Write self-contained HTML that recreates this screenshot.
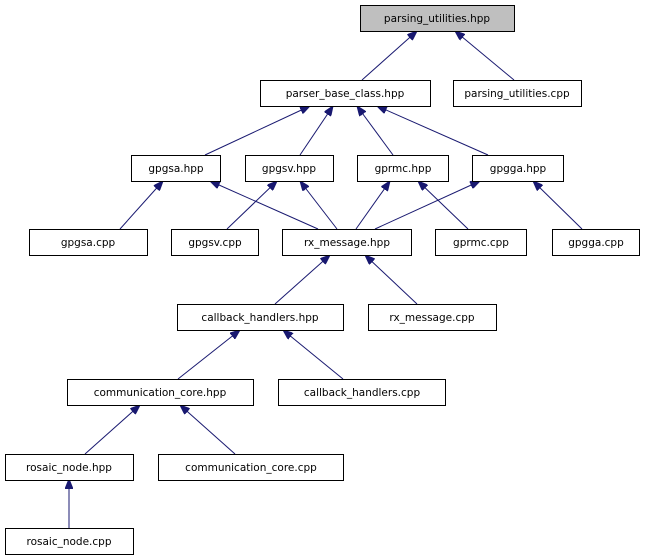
<!DOCTYPE html>
<html><head><meta charset="utf-8"><style>
html,body{margin:0;padding:0;background:#fff;width:646px;height:560px;overflow:hidden}
</style></head><body>
<svg width="646" height="560" viewBox="0 0 646 560" xmlns="http://www.w3.org/2000/svg">
<defs>
<marker id="a" markerWidth="10" markerHeight="8" refX="10" refY="4" orient="auto" markerUnits="userSpaceOnUse">
<path d="M0,0 L10,4 L0,8 Z" fill="#191970" stroke="#191970"/>
</marker>
</defs>
<g stroke="#191970" stroke-width="1" fill="none" marker-end="url(#a)">
<line x1="362" y1="80" x2="417" y2="31"/>
<line x1="514" y1="80" x2="455" y2="31"/>
<line x1="205" y1="155" x2="310" y2="106"/>
<line x1="300" y1="155" x2="333" y2="106"/>
<line x1="393" y1="155" x2="357" y2="106"/>
<line x1="488" y1="155" x2="377" y2="106"/>
<line x1="120" y1="229" x2="163" y2="181"/>
<line x1="318" y1="229" x2="210" y2="181"/>
<line x1="227" y1="229" x2="277" y2="181"/>
<line x1="337" y1="229" x2="300" y2="181"/>
<line x1="356" y1="229" x2="390" y2="181"/>
<line x1="375" y1="229" x2="480" y2="181"/>
<line x1="468" y1="229" x2="418" y2="181"/>
<line x1="582" y1="229" x2="533" y2="181"/>
<line x1="275" y1="304" x2="330" y2="255"/>
<line x1="417" y1="304" x2="365" y2="255"/>
<line x1="178" y1="379" x2="240" y2="330"/>
<line x1="343" y1="379" x2="283" y2="330"/>
<line x1="85" y1="454" x2="140" y2="405"/>
<line x1="235" y1="454" x2="180" y2="405"/>
<line x1="69" y1="528" x2="69" y2="479"/>
</g>
<g stroke="#000" stroke-width="1" fill="#fff" font-family="DejaVu Sans, Liberation Sans, sans-serif" font-size="10.5">
<rect x="360.5" y="5.5" width="154" height="26" fill="#bfbfbf"/>
<rect x="260.5" y="80.5" width="170" height="26"/>
<rect x="453.5" y="80.5" width="128" height="26"/>
<rect x="131.5" y="155.5" width="89" height="26"/>
<rect x="245.5" y="155.5" width="88" height="26"/>
<rect x="357.5" y="155.5" width="91" height="26"/>
<rect x="472.5" y="155.5" width="91" height="26"/>
<rect x="29.5" y="229.5" width="118" height="26"/>
<rect x="171.5" y="229.5" width="87" height="26"/>
<rect x="282.5" y="229.5" width="129" height="26"/>
<rect x="435.5" y="229.5" width="91" height="26"/>
<rect x="552.5" y="229.5" width="87" height="26"/>
<rect x="177.5" y="304.5" width="166" height="26"/>
<rect x="368.5" y="304.5" width="128" height="26"/>
<rect x="67.5" y="379.5" width="186" height="26"/>
<rect x="278.5" y="379.5" width="167" height="26"/>
<rect x="5.5" y="454.5" width="128" height="26"/>
<rect x="158.5" y="454.5" width="185" height="26"/>
<rect x="5.5" y="528.5" width="128" height="26"/>
</g>
<g fill="#000" stroke="none" font-family="DejaVu Sans, Liberation Sans, sans-serif" font-size="10.5" text-anchor="middle">
<text x="437" y="22">parsing_utilities.hpp</text>
<text x="345" y="97">parser_base_class.hpp</text>
<text x="517" y="97">parsing_utilities.cpp</text>
<text x="176" y="172">gpgsa.hpp</text>
<text x="289" y="172">gpgsv.hpp</text>
<text x="403" y="172">gprmc.hpp</text>
<text x="518" y="172">gpgga.hpp</text>
<text x="88" y="246">gpgsa.cpp</text>
<text x="215" y="246">gpgsv.cpp</text>
<text x="347" y="246">rx_message.hpp</text>
<text x="481" y="246">gprmc.cpp</text>
<text x="596" y="246">gpgga.cpp</text>
<text x="260" y="321">callback_handlers.hpp</text>
<text x="432" y="321">rx_message.cpp</text>
<text x="160" y="396">communication_core.hpp</text>
<text x="362" y="396">callback_handlers.cpp</text>
<text x="69" y="471">rosaic_node.hpp</text>
<text x="251" y="471">communication_core.cpp</text>
<text x="69" y="545">rosaic_node.cpp</text>
</g>
</svg>
</body></html>
